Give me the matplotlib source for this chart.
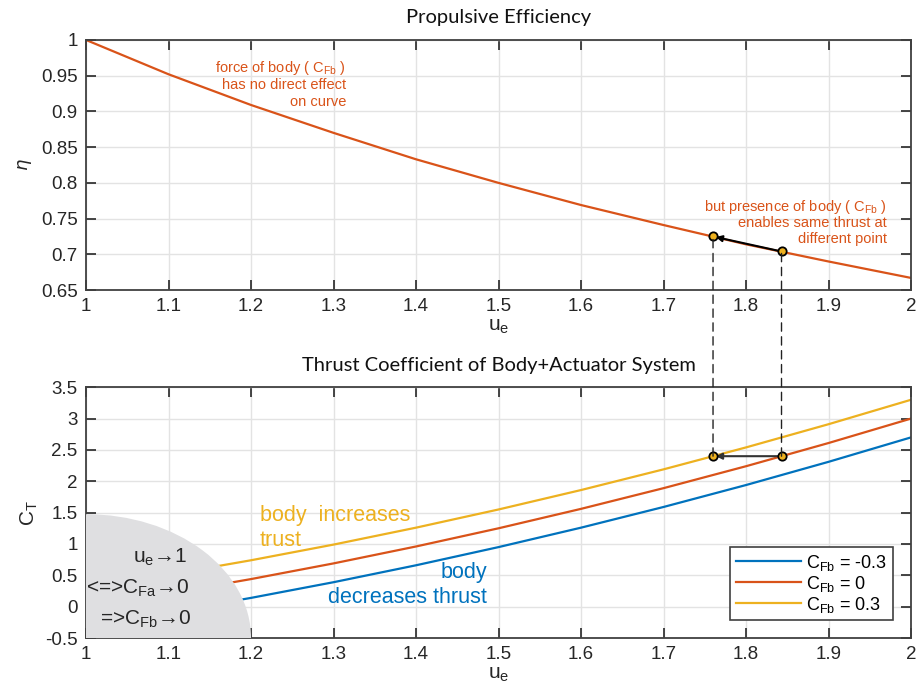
import numpy as np
import matplotlib
matplotlib.use("Agg")
import matplotlib.pyplot as plt
from matplotlib.patches import Ellipse, ConnectionPatch

# data
ue = [1.0, 1.1, 1.2, 1.3, 1.4, 1.5, 1.6, 1.7, 1.8, 1.9, 2.0]
eta = [1.0, 0.952, 0.909, 0.870, 0.833, 0.800, 0.769, 0.741, 0.714, 0.690, 0.667]
ct_neg = [-0.30, -0.09, 0.14, 0.39, 0.66, 0.95, 1.26, 1.59, 1.94, 2.31, 2.70]
ct_zero = [0.00, 0.21, 0.44, 0.69, 0.96, 1.25, 1.56, 1.89, 2.24, 2.61, 3.00]
ct_pos = [0.30, 0.51, 0.74, 0.99, 1.26, 1.55, 1.86, 2.19, 2.54, 2.91, 3.30]
cfb_labels = ["-0.3", "0", "0.3"]

# the two operating points (same thrust, different ue)
pt_ue = [1.843, 1.760]
pt_eta = [0.704, 0.725]
pt_ct = [2.40, 2.40]

blue, red, yellow = "#0072BD", "#D95319", "#EDB120"
dark = "#262626"

plt.rcParams["font.family"] = ["Liberation Sans", "DejaVu Sans"]
plt.rcParams["mathtext.fontset"] = "custom"
plt.rcParams["mathtext.rm"] = "Liberation Sans"

fig = plt.figure(figsize=(9.17, 6.89), dpi=100)
ax1 = fig.add_axes([0.0938, 0.579, 0.8997, 0.363])
ax2 = fig.add_axes([0.0938, 0.074, 0.8997, 0.364])


def style(ax):
    ax.tick_params(direction="in", length=7, width=1.2, top=True, right=True,
                   labelsize=13.5, colors=dark, pad=6)
    for s in ax.spines.values():
        s.set_color("#404040")
        s.set_linewidth(1.3)
    ax.grid(True, color="#e3e3e3", lw=1.0)
    ax.set_axisbelow(True)
    ax.set_xlim(1, 2)
    ax.set_xticks(np.arange(1, 2.01, 0.1))
    ax.set_xticklabels(["1", "1.1", "1.2", "1.3", "1.4", "1.5", "1.6", "1.7", "1.8", "1.9", "2"])


# top: propulsive efficiency
style(ax1)
ax1.plot(ue, eta, color=red, lw=1.6)
ax1.set_ylim(0.65, 1)
ax1.set_yticks(np.arange(0.65, 1.001, 0.05))
ax1.set_yticklabels(["0.65", "0.7", "0.75", "0.8", "0.85", "0.9", "0.95", "1"])
ax1.set_xlabel(r"$\mathregular{u_e}$", fontsize=15, color=dark, labelpad=1)
ax1.set_ylabel(r"$\eta$", fontsize=13, color=dark, labelpad=5)
ax1.set_title("Propulsive Efficiency", fontsize=14.5, family="Lato", color="#111111", pad=12)

fs = 10.5
ax1.text(1.315, 0.961, r"force of body ( $\mathregular{C_{Fb}}$ )", color=red,
         fontsize=fs, ha="right", va="center")
ax1.text(1.315, 0.937, "has no direct effect", color=red, fontsize=fs, ha="right", va="center")
ax1.text(1.315, 0.913, "on curve", color=red, fontsize=fs, ha="right", va="center")
ax1.text(1.971, 0.766, r"but presence of body ( $\mathregular{C_{Fb}}$ )", color=red,
         fontsize=fs, ha="right", va="center")
ax1.text(1.971, 0.744, "enables same thrust at", color=red, fontsize=fs, ha="right", va="center")
ax1.text(1.971, 0.721, "different point", color=red, fontsize=fs, ha="right", va="center")

ax1.annotate("", xy=(pt_ue[1], pt_eta[1]), xytext=(pt_ue[0], pt_eta[0]),
             arrowprops=dict(arrowstyle="-|>", color="black", lw=1.5, mutation_scale=9,
                             shrinkA=0, shrinkB=2), zorder=4)
ax1.plot(pt_ue, pt_eta, "o", ms=6, mfc=yellow, mec="black", mew=1.3, zorder=5)

# bottom: thrust coefficient
style(ax2)
for y, c, lab in zip([ct_neg, ct_zero, ct_pos], [blue, red, yellow], cfb_labels):
    ax2.plot(ue, y, color=c, lw=1.6, label=r"$\mathregular{C_{Fb}}$ = " + lab)
ax2.set_ylim(-0.5, 3.5)
ax2.set_yticks(np.arange(-0.5, 3.51, 0.5))
ax2.set_yticklabels(["-0.5", "0", "0.5", "1", "1.5", "2", "2.5", "3", "3.5"])
ax2.set_xlabel(r"$\mathregular{u_e}$", fontsize=15, color=dark, labelpad=1)
ax2.set_ylabel(r"$\mathregular{C_T}$", fontsize=15, color=dark, labelpad=4)
ax2.set_title("Thrust Coefficient of Body+Actuator System", fontsize=14.5, family="Lato",
              color="#111111", pad=12)

ax2.add_patch(Ellipse((1, -0.5), 0.4, 3.95, facecolor="#dfdfe1", edgecolor="none", zorder=3))
ax2.text(1.09, 0.78, r"u$\mathregular{_e}$→1", fontsize=15, color=dark,
         ha="center", va="center", zorder=4)
ax2.text(1.063, 0.30, r"<=>C$\mathregular{_{Fa}}$→0", fontsize=15, color=dark,
         ha="center", va="center", zorder=4)
ax2.text(1.072, -0.20, r"=>C$\mathregular{_{Fb}}$→0", fontsize=15, color=dark,
         ha="center", va="center", zorder=4)

ax2.text(1.211, 1.45, "body  increases", color=yellow, fontsize=15.5, ha="left", va="center")
ax2.text(1.211, 1.05, "trust", color=yellow, fontsize=15.5, ha="left", va="center")
ax2.text(1.486, 0.54, "body", color=blue, fontsize=15.5, ha="right", va="center")
ax2.text(1.486, 0.14, "decreases thrust", color=blue, fontsize=15.5, ha="right", va="center")

ax2.annotate("", xy=(pt_ue[1], pt_ct[1]), xytext=(pt_ue[0], pt_ct[0]),
             arrowprops=dict(arrowstyle="-|>", color="#333333", lw=1.5, mutation_scale=9,
                             shrinkA=0, shrinkB=2), zorder=4)
ax2.plot(pt_ue, pt_ct, "o", ms=6, mfc=yellow, mec="black", mew=1.3, zorder=5)

leg = ax2.legend(loc="lower right", bbox_to_anchor=(0.978, 0.072), borderaxespad=0,
                 fontsize=13, fancybox=False, framealpha=1, edgecolor="#404040",
                 handlelength=3.6, labelspacing=0.05, borderpad=0.3, handletextpad=0.3)
leg.get_frame().set_linewidth(1.2)
leg.set_zorder(6)

# dashed connectors between the panels
for x, e, c in zip(pt_ue, pt_eta, pt_ct):
    con = ConnectionPatch(xyA=(x, c), coordsA=ax2.transData, xyB=(x, e), coordsB=ax1.transData,
                          color="#222222", lw=1.0, ls=(0, (6, 4)), zorder=2)
    fig.add_artist(con)

fig.savefig("out.png", dpi=100)
